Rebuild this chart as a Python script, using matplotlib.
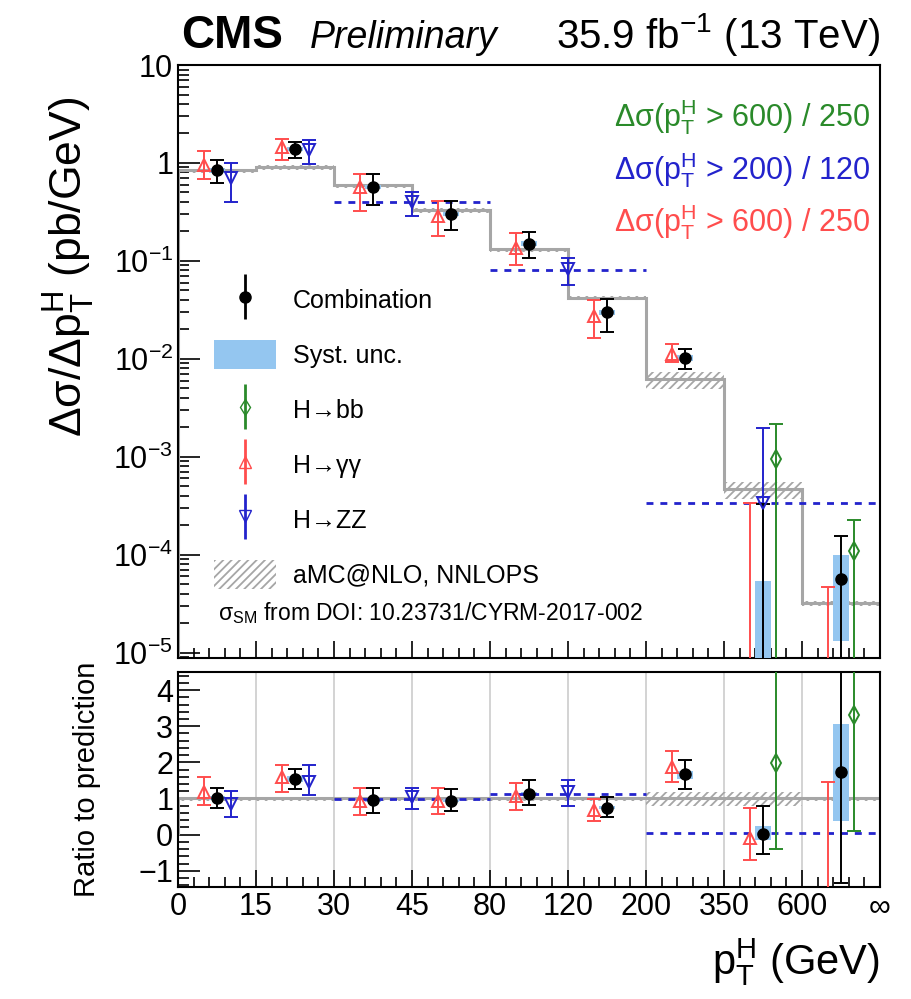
import numpy as np
import matplotlib
matplotlib.use('Agg')
import matplotlib.pyplot as plt
from matplotlib.lines import Line2D
from matplotlib.patches import Patch
from matplotlib.collections import LineCollection
from matplotlib.container import ErrorbarContainer
from matplotlib.legend_handler import HandlerErrorbar
from matplotlib.ticker import FixedLocator, MultipleLocator, LogLocator, NullFormatter

plt.rcParams['font.family'] = ['Liberation Sans', 'DejaVu Sans']
plt.rcParams['mathtext.fontset'] = 'custom'
plt.rcParams['mathtext.rm'] = 'Liberation Sans'
plt.rcParams['mathtext.it'] = 'Liberation Sans:italic'
plt.rcParams['mathtext.bf'] = 'Liberation Sans:bold'
plt.rcParams['hatch.linewidth'] = 1.3

# bin edges (GeV) shown as labels, bins are drawn on an index axis
bin_labels = ['0', '15', '30', '45', '80', '120', '200', '350', '600', '∞']

# prediction aMC@NLO, NNLOPS (pb/GeV) and its band (relative)
amc = [0.84, 0.91, 0.59, 0.33, 0.131, 0.042, 0.0062, 4.65e-4, 3.2e-5]
amc_rel_lo = [0.94, 0.94, 0.94, 0.94, 0.94, 0.94, 0.80, 0.80, 0.94]
amc_rel_hi = [1.04, 1.04, 1.04, 1.04, 1.04, 1.04, 1.18, 1.18, 1.04]

# combination: value, upper end, lower end
comb = [0.84, 1.40, 0.57, 0.30, 0.150, 0.030, 0.0102, 0.0, 5.65e-5]
comb_hi = [1.065, 1.64, 0.78, 0.407, 0.197, 0.0405, 0.0126, 3.3e-4, 1.55e-4]
comb_lo = [0.62, 1.13, 0.37, 0.206, 0.108, 0.0186, 0.0078, -2.6e-4, -4.3e-5]
syst_lo = [0.79, 1.33, 0.54, 0.285, 0.142, 0.0283, 0.0096, 1e-6, 1.3e-5]
syst_hi = [0.89, 1.47, 0.60, 0.315, 0.158, 0.0318, 0.0109, 5.4e-5, 1.0e-4]

# H->gammagamma
gg = [0.95, 1.44, 0.57, 0.29, 0.134, 0.0275, 0.0113, -4.2e-5, -6.4e-5]
gg_hi = [1.32, 1.75, 0.78, 0.41, 0.193, 0.040, 0.0142, 3.34e-4, 4.7e-5]
gg_lo = [0.68, 1.08, 0.32, 0.18, 0.090, 0.0163, 0.0092, -3.2e-4, -1.6e-4]

# H->ZZ (bins 0-15, 15-30, 30-80, 80-200, 200-inf)
zz_pos = [0.68, 1.68, 3.0, 5.0, 7.5]
zz = [0.71, 1.37, 0.40, 0.082, 3.34e-4]
zz_hi = [1.0, 1.73, 0.51, 0.106, 1.95e-3]
zz_lo = [0.40, 0.97, 0.29, 0.057, -1.0e-3]
zz_wide_start = [2, 4, 6]
zz_wide_end = [4, 6, 9]
zz_wide = [0.40, 0.080, 3.34e-4]

# H->bb (bins 350-600, 600-inf)
bb_bins = [7, 8]
bb = [9.4e-4, 1.09e-4]
bb_hi = [2.15e-3, 2.26e-4]
bb_lo = [-1.9e-4, 2.9e-6]

# ratio to prediction
comb_r = [1.01, 1.54, 0.96, 0.94, 1.12, 0.75, 1.67, 0.02, 1.72]
comb_r_hi = [1.30, 1.82, 1.28, 1.27, 1.50, 1.03, 2.06, 0.78, 5.5]
comb_r_lo = [0.73, 1.27, 0.61, 0.64, 0.81, 0.48, 1.27, -0.55, -1.35]
syst_r_lo = [0.95, 1.47, 0.91, 0.89, 1.06, 0.70, 1.55, -0.14, 0.39]
syst_r_hi = [1.07, 1.61, 1.01, 0.99, 1.18, 0.80, 1.76, 0.23, 3.07]
gg_r = [1.19, 1.59, 0.92, 0.92, 1.06, 0.69, 1.88, -0.09, -2.0]
gg_r_hi = [1.59, 1.93, 1.30, 1.30, 1.44, 0.98, 2.32, 0.73, 1.47]
gg_r_lo = [0.81, 1.19, 0.55, 0.57, 0.67, 0.39, 1.47, -0.69, -3.0]
zz_r_pos = [0.68, 1.68, 3.0, 5.0]
zz_r = [0.85, 1.47, 1.03, 1.17]
zz_r_hi = [1.21, 1.93, 1.28, 1.51]
zz_r_lo = [0.48, 1.10, 0.72, 0.78]
zz_r_wide = [0.98, 1.12, 0.04]
bb_r = [1.99, 3.32]
bb_r_hi = [6.0, 6.0]
bb_r_lo = [-0.41, 0.09]

RED = '#ff4d4d'
BLUE = '#2323cc'
GREEN = '#2a8a2a'
SYST = '#94c6f0'
GREY = '#a6a6a6'

nb = len(amc)
edges = np.arange(nb + 1)
centers = edges[:-1] + 0.5
off_gg, off_bb = -0.17, 0.16

fig = plt.figure(figsize=(9.11, 9.99), dpi=100)
ax = fig.add_axes([0.1954, 0.3413, 0.7706, 0.5936])
ax2 = fig.add_axes([0.1954, 0.1121, 0.7706, 0.2152])


def errs(v, hi, lo):
    v = np.array(v); return [v - np.array(lo), np.array(hi) - v]


def draw(a, amc_c, amc_lo, amc_hi, cv, chi, clo, slo, shi, gv, ghi, glo,
         zp, zv, zhi, zlo, zw, bv, bhi, blo):
    a.stairs(amc_hi, edges, baseline=amc_lo, fill=True, facecolor='none',
             edgecolor=GREY, hatch='////', lw=0, zorder=1)
    a.stairs(amc_c, edges, color=GREY, lw=2.2, zorder=2)
    a.bar(centers, np.array(shi) - np.array(slo), bottom=slo, width=0.2,
          color=SYST, lw=0, zorder=3)
    a.hlines(zw, zz_wide_start, zz_wide_end, colors=BLUE, linestyles=(0, (2.5, 2.5)),
             lw=2, zorder=4)
    kw = dict(capsize=5, elinewidth=1.4, capthick=1.4, ls='none', zorder=5)
    a.errorbar(centers + off_gg, gv, yerr=errs(gv, ghi, glo), fmt='^', color=RED,
               mfc='none', mec=RED, mew=1.4, ms=9, **kw)
    a.errorbar(zp, zv, yerr=errs(zv, zhi, zlo), fmt='v', color=BLUE,
               mfc='none', mec=BLUE, mew=1.4, ms=9, **kw)
    a.errorbar(np.array(bb_bins) + 0.5 + off_bb, bv, yerr=errs(bv, bhi, blo), fmt='d',
               color=GREEN, mfc='none', mec=GREEN, mew=1.4, ms=9, **kw)
    a.errorbar(centers, cv, yerr=errs(cv, chi, clo), fmt='o', color='black', ms=8,
               **kw)


draw(ax, amc, np.array(amc) * amc_rel_lo, np.array(amc) * amc_rel_hi,
     comb, comb_hi, comb_lo, syst_lo, syst_hi, gg, gg_hi, gg_lo,
     zz_pos, zz, zz_hi, zz_lo, zz_wide, bb, bb_hi, bb_lo)
draw(ax2, np.ones(nb), amc_rel_lo, amc_rel_hi,
     comb_r, comb_r_hi, comb_r_lo, syst_r_lo, syst_r_hi, gg_r, gg_r_hi, gg_r_lo,
     zz_r_pos, zz_r, zz_r_hi, zz_r_lo, zz_r_wide, bb_r, bb_r_hi, bb_r_lo)

# axes
ax.set_yscale('log')
ax.set_ylim(8.8e-6, 10)
ax2.set_ylim(-1.45, 4.5)
for a in (ax, ax2):
    a.set_xlim(0, nb)
    a.xaxis.set_major_locator(FixedLocator(edges))
    a.xaxis.set_minor_locator(MultipleLocator(0.2))
    a.tick_params(which='both', direction='in', top=False, right=False,
                  width=1.2, labelsize=22)
    a.tick_params(axis='x', which='major', length=12)
    a.tick_params(axis='x', which='minor', length=7)
    for s in a.spines.values():
        s.set_linewidth(1.5)
ax.tick_params(axis='y', which='major', length=16)
ax.tick_params(axis='y', which='minor', length=8)
ax.yaxis.set_major_locator(LogLocator(base=10, numticks=10))
ax.yaxis.set_minor_locator(LogLocator(base=10, subs=np.arange(2, 10), numticks=20))
ax.yaxis.set_minor_formatter(NullFormatter())
dec = [1e-5, 1e-4, 1e-3, 1e-2, 1e-1, 1, 10]
ax.set_yticks(dec)
ax.set_yticklabels([r'$10^{-5}$', r'$10^{-4}$', r'$10^{-3}$', r'$10^{-2}$',
                    r'$10^{-1}$', '1', '10'])
ax.set_xticklabels([])
ax2.yaxis.set_major_locator(MultipleLocator(1))
ax2.yaxis.set_minor_locator(MultipleLocator(0.2))
ax2.tick_params(axis='y', which='major', length=16)
ax2.tick_params(axis='y', which='minor', length=8)
ax2.set_yticks([-1, 0, 1, 2, 3, 4])
ax2.set_yticklabels(['\u22121', '0', '1', '2', '3', '4'])
ax2.set_xticklabels(bin_labels)
ax2.grid(axis='x', which='major', color='#cccccc', lw=1.2)
ax2.set_axisbelow(True)

ptH = r'$_{\mathrm{T}}^{\mathrm{H}}$'
ax.set_ylabel('Δσ/Δp' + ptH + ' (pb/GeV)', fontsize=32)
ax.yaxis.set_label_coords(-0.115, 0.66)
ax2.set_ylabel('Ratio to prediction', fontsize=21)
ax2.yaxis.set_label_coords(-0.11, 0.5)
ax2.set_xlabel('p' + ptH + ' (GeV)', fontsize=30)
ax2.xaxis.set_label_coords(1.0, -0.23)
ax2.xaxis.label.set_horizontalalignment('right')

# annotations
ax.text(0.985, 0.912, 'Δσ(p' + ptH + ' > 600) / 250',
        color=GREEN, ha='right', va='center', fontsize=22, transform=ax.transAxes)
ax.text(0.985, 0.823, 'Δσ(p' + ptH + ' > 200) / 120',
        color=BLUE, ha='right', va='center', fontsize=22, transform=ax.transAxes)
ax.text(0.985, 0.735, 'Δσ(p' + ptH + ' > 600) / 250',
        color=RED, ha='right', va='center', fontsize=22, transform=ax.transAxes)
ax.text(0.057, 0.076, 'σ' + r'$_{\mathrm{SM}}$ from DOI: 10.23731/CYRM-2017-002',
        fontsize=16.5, va='center', transform=ax.transAxes)


# legend
def proxy(color, marker, mfc):
    ln = Line2D([], [], color=color, marker=marker, mfc=mfc, mec=color, ms=8, ls='none')
    bar = LineCollection([], colors=color, linewidths=2)
    return ErrorbarContainer((ln, (), (bar,)), has_xerr=False, has_yerr=True)


handles = [proxy('black', 'o', 'black'),
           Patch(facecolor=SYST, edgecolor='none'),
           proxy(GREEN, 'd', 'none'),
           proxy(RED, '^', 'none'),
           proxy(BLUE, 'v', 'none'),
           Patch(facecolor='none', edgecolor=GREY, hatch='////', lw=0)]
labels = ['Combination', 'Syst. unc.', 'H\u2192bb', 'H\u2192\u03b3\u03b3',
          'H\u2192ZZ', 'aMC@NLO, NNLOPS']
ax.legend(handles, labels, loc='upper left', bbox_to_anchor=(0.019, 0.666),
          frameon=False, fontsize=18, labelspacing=1.04, handlelength=2.5,
          handleheight=1.4, handletextpad=0.65, borderpad=0.4,
          handler_map={ErrorbarContainer: HandlerErrorbar(xerr_size=0.9)})

# header
fig.text(0.199, 0.952, 'CMS', fontsize=33, fontweight='bold', va='baseline')
fig.text(0.34, 0.952, 'Preliminary', fontsize=27, style='italic', va='baseline')
fig.text(0.966, 0.952, r'35.9 fb$^{-1}$ (13 TeV)', fontsize=29, ha='right',
         va='baseline')

fig.savefig('out.png', dpi=100)
